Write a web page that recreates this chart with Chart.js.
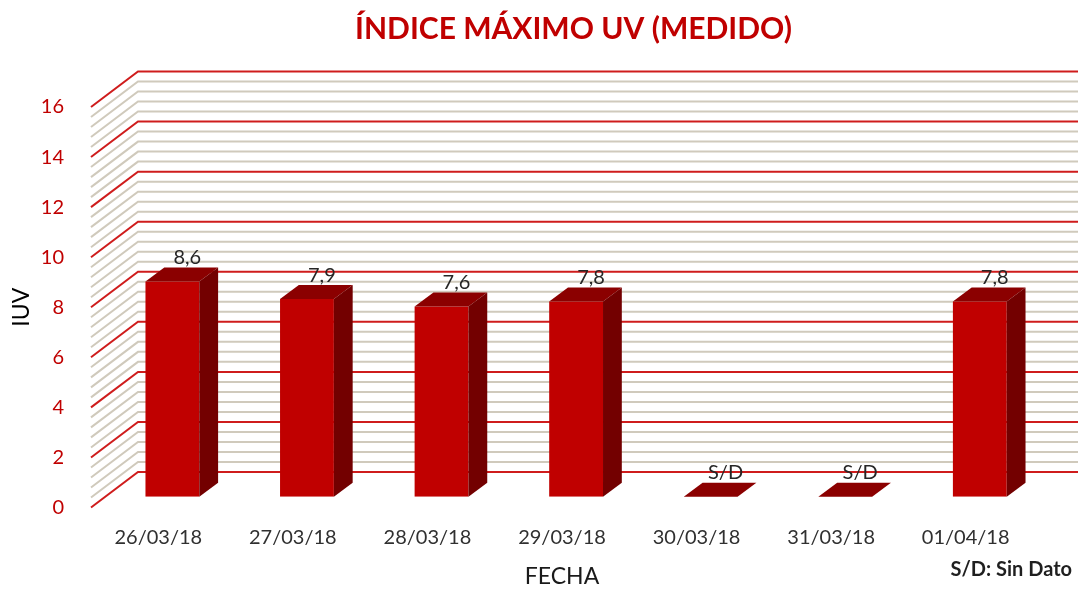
<!DOCTYPE html>
<html>
<head>
<meta charset="utf-8">
<script src="https://cdn.jsdelivr.net/npm/chart.js@4.4.1/dist/chart.umd.min.js"></script>
<style>
  html, body { margin: 0; padding: 0; background: #fff; }
  #wrap { width: 1078px; height: 590px; }
</style>
</head>
<body>
<div id="wrap"><canvas id="uvChart"></canvas></div>
<script>
// datos
var fechas = ["26/03/18", "27/03/18", "28/03/18", "29/03/18", "30/03/18", "31/03/18", "01/04/18"];
var iuvMedido = [8.6, 7.9, 7.6, 7.8, 0, 0, 7.8];
var etiquetas = ["8,6", "7,9", "7,6", "7,8", "S/D", "S/D", "7,8"];
var nota = "S/D: Sin Dato";

// perspectiva 3D (profundidad del piso)
var DX = 47, DY = -35.5;
var FRENTE = 0.3, FONDO = 0.7;
var ROJO = "#c00000";

var efecto3d = {
  id: "efecto3d",
  afterLayout: function (chart) {
    // el titulo esta corrido a la derecha en el original
    chart.titleBlock.left += 57;
    chart.titleBlock.right += 57;
  },
  beforeDatasetsDraw: function (chart) {
    var ctx = chart.ctx;
    var area = chart.chartArea;
    var y = chart.scales.y;

    // pared lateral y del fondo
    ctx.save();
    ctx.lineWidth = 2;
    [false, true].forEach(function (mayor) {
      ctx.strokeStyle = mayor ? "#cf1c1c" : "#d0cabc";
      for (var k = 0; k <= 40; k++) {
        var esMayor = k % 5 === 0;
        if (esMayor !== mayor) continue;
        var py = y.getPixelForValue(k * 0.4);
        ctx.beginPath();
        ctx.moveTo(area.left, py);
        ctx.lineTo(area.left + DX, py + DY);
        ctx.lineTo(area.right + DX, py + DY);
        ctx.stroke();
      }
    });
    ctx.restore();

    // las barras se dibujan en el plano frontal de la barra
    ctx.save();
    ctx.translate(DX * FRENTE, DY * FRENTE);
  },
  afterDatasetsDraw: function (chart) {
    var ctx = chart.ctx;
    var meta = chart.getDatasetMeta(0);
    var bx = DX * (FONDO - FRENTE), by = DY * (FONDO - FRENTE);

    meta.data.forEach(function (bar) {
      var p = bar.getProps(["x", "y", "base", "width"], true);
      var l = p.x - p.width / 2, r = p.x + p.width / 2;
      // cara superior
      ctx.fillStyle = "#8b0000";
      ctx.beginPath();
      ctx.moveTo(l, p.y);
      ctx.lineTo(r, p.y);
      ctx.lineTo(r + bx, p.y + by);
      ctx.lineTo(l + bx, p.y + by);
      ctx.closePath();
      ctx.fill();
      // cara lateral
      if (p.base - p.y > 0.5) {
        ctx.fillStyle = "#730000";
        ctx.beginPath();
        ctx.moveTo(r, p.y);
        ctx.lineTo(r + bx, p.y + by);
        ctx.lineTo(r + bx, p.base + by);
        ctx.lineTo(r, p.base);
        ctx.closePath();
        ctx.fill();
      }
    });
    ctx.restore();

    // etiquetas de valor
    ctx.save();
    ctx.font = "20px Lato";
    ctx.fillStyle = "#262626";
    ctx.textAlign = "center";
    ctx.textBaseline = "middle";
    meta.data.forEach(function (bar, i) {
      var p = bar.getProps(["x", "y"], true);
      ctx.fillText(etiquetas[i], p.x + 29, p.y - 34.5);
    });
    ctx.restore();
  },
  afterDraw: function (chart) {
    var ctx = chart.ctx;
    ctx.save();
    ctx.font = "bold 20px Lato";
    ctx.fillStyle = "#1f1f1f";
    ctx.textAlign = "right";
    ctx.textBaseline = "middle";
    ctx.fillText(nota, 1072, 570);
    ctx.restore();
  }
};

var ctx = document.getElementById("uvChart").getContext("2d");

new Chart(ctx, {
  type: "bar",
  data: {
    labels: fechas,
    datasets: [
      {
        label: "IUV",
        data: iuvMedido,
        backgroundColor: ROJO,
        borderWidth: 0,
        barPercentage: 0.4,
        categoryPercentage: 1.0,
      },
    ],
  },
  options: {
    responsive: true,
    maintainAspectRatio: false,
    animation: false,
    layout: {
      padding: { top: 0, left: 0, right: 45, bottom: 0 },
    },
    plugins: {
      legend: { display: false },
      tooltip: { enabled: false },
      title: {
        display: true,
        text: "ÍNDICE MÁXIMO UV (MEDIDO)",
        color: ROJO,
        font: { family: "Lato", size: 30, weight: "bold" },
        padding: { top: 11, bottom: 60 },
      },
    },
    scales: {
      x: {
        grid: { display: false },
        border: { display: false },
        ticks: {
          color: "#303030",
          font: { family: "Lato", size: 20 },
          padding: 10.5,
          maxRotation: 0,
        },
        title: {
          display: true,
          text: "FECHA",
          color: "#1a1a1a",
          font: { family: "Lato", size: 23 },
          padding: { top: 0, bottom: 0 },
        },
        afterFit: function (scale) {
          scale.height = 82.5;
        },
      },
      y: {
        min: 0,
        max: 16,
        grid: { display: false },
        border: { display: false },
        ticks: {
          stepSize: 2,
          color: ROJO,
          font: { family: "Lato", size: 20 },
          padding: 19,
        },
        title: {
          display: true,
          text: "IUV",
          color: "#000000",
          font: { family: "Lato", size: 23 },
          padding: { top: 8, bottom: 0 },
        },
        afterFit: function (scale) {
          scale.width = 91;
        },
      },
    },
  },
  plugins: [efecto3d],
});
</script>
</body>
</html>
